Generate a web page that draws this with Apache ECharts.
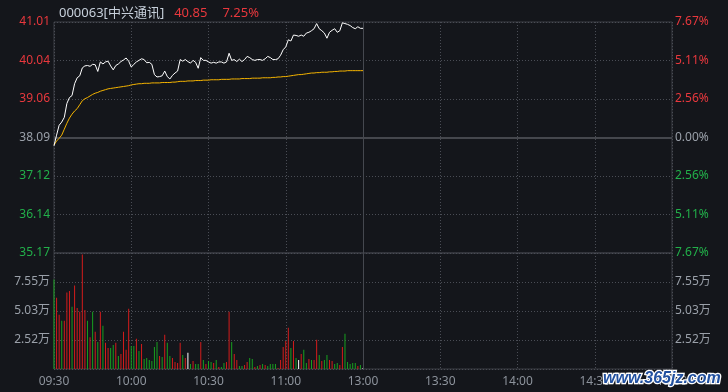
<!DOCTYPE html>
<html><head><meta charset="utf-8">
<script src="https://cdn.jsdelivr.net/npm/echarts@6/dist/echarts.min.js"></script>
<style>html,body{margin:0;padding:0;background:#14161b}#c{width:728px;height:392px}</style>
</head><body><div id="c"></div>
<script>
// ---- data ----
const stockName = '000063[中兴通讯]';
const lastPrice = '40.85';
const lastPct = '7.25%';
const prevClose = 38.09;
const priceTicks = ['35.17','36.14','37.12','38.09','39.06','40.04','41.01'];
const pctTicks = ['7.67%','5.11%','2.56%','0.00%','2.56%','5.11%','7.67%'];
const volTicks = ['','2.52万','5.03万','7.55万',''];
const timeTicks = ['09:30','10:00','10:30','11:00','13:00','13:30','14:00','14:30','15:00'];
const watermark = 'www.365jz.com';

const prices = [37.88,38.15,38.40,38.48,38.60,38.95,39.10,39.15,39.45,39.60,
 39.65,39.85,39.90,39.91,39.89,39.94,39.93,39.76,40.00,39.95,
 40.00,40.02,39.90,39.80,39.91,39.95,40.01,40.05,40.10,40.02,
 39.87,39.94,40.00,40.04,40.08,40.06,39.98,39.99,39.94,39.68,
 39.62,39.63,39.65,39.77,39.63,39.57,39.66,39.72,39.77,40.06,
 40.02,40.06,40.01,39.97,40.04,39.99,39.84,40.11,40.04,40.04,
 40.00,39.97,39.99,39.97,40.00,40.00,39.97,40.00,40.22,40.04,
 40.06,40.01,40.07,40.01,40.06,40.14,40.11,40.06,40.04,40.06,
 40.06,40.04,40.08,40.14,40.11,40.06,40.06,40.08,40.17,40.31,
 40.38,40.56,40.53,40.68,40.67,40.65,40.68,40.65,40.73,40.75,
 40.79,40.84,40.97,40.84,40.79,40.73,40.60,40.75,40.80,40.84,
 40.75,40.79,40.99,40.97,40.95,40.92,40.87,40.84,40.89,40.85,
 40.85];

const avgPrices = [37.90,38.00,38.07,38.15,38.30,38.45,38.58,38.68,38.76,38.82,
 38.92,39.02,39.07,39.10,39.14,39.18,39.21,39.23,39.26,39.28,
 39.30,39.32,39.33,39.34,39.35,39.36,39.37,39.38,39.39,39.40,
 39.42,39.43,39.44,39.45,39.45,39.46,39.46,39.46,39.47,39.47,
 39.47,39.47,39.48,39.48,39.48,39.48,39.49,39.49,39.50,39.51,
 39.51,39.51,39.52,39.52,39.52,39.53,39.53,39.53,39.54,39.54,
 39.54,39.55,39.55,39.55,39.55,39.56,39.56,39.56,39.56,39.57,
 39.57,39.57,39.57,39.58,39.58,39.58,39.58,39.59,39.59,39.59,
 39.59,39.60,39.60,39.60,39.60,39.61,39.61,39.62,39.62,39.63,
 39.63,39.64,39.65,39.66,39.67,39.68,39.68,39.69,39.70,39.71,
 39.72,39.72,39.73,39.73,39.74,39.74,39.74,39.75,39.75,39.76,
 39.76,39.77,39.77,39.77,39.78,39.78,39.78,39.78,39.78,39.78,
 39.78];

// volume in 万
const volumes = [7.76,6.19,4.71,4.19,4.19,6.63,6.77,5.41,7.24,5.29,
 4.97,9.94,5.12,4.19,2.76,4.97,3.23,2.35,4.97,3.75,
 2.27,1.83,1.83,2.09,2.27,1.13,1.31,3.23,1.66,5.23,
 2.00,2.00,2.62,1.57,2.18,0.87,0.96,0.78,0.70,1.92,
 2.35,1.13,1.05,2.97,2.27,1.13,0.96,0.61,0.52,2.27,
 1.22,0.96,1.40,0.44,0.70,0.44,0.44,2.35,0.78,0.44,
 0.70,0.61,0.52,0.78,0.17,0.17,0.52,0.61,4.97,2.35,
 1.31,0.78,0.26,0.26,0.35,0.61,0.96,0.87,0.17,0.26,
 0.35,0.44,0.35,0.26,0.44,0.44,0.44,0.09,0.78,1.92,
 2.44,3.58,1.83,2.44,0.96,0.78,1.31,1.66,0.52,0.87,
 0.78,0.78,2.53,1.22,0.70,0.78,1.22,0.78,0.70,0.44,
 0.52,0.35,1.92,3.05,0.61,0.44,0.52,0.52,0.26,0.35,
 0.09];
// 1 = up (red), -1 = down (green), 0 = flat (white)
const directions = [-1,1,1,-1,1,1,1,-1,1,1,
 1,1,1,-1,1,-1,1,-1,1,-1,
 1,1,-1,-1,1,-1,1,1,1,1,
 -1,-1,1,-1,1,-1,-1,-1,-1,-1,
 -1,1,-1,1,-1,-1,1,1,1,1,
 -1,1,0,-1,1,-1,-1,1,-1,1,
 -1,-1,1,-1,1,-1,-1,1,1,-1,
 1,1,-1,-1,1,1,-1,-1,1,-1,
 1,-1,1,-1,-1,-1,-1,1,1,1,
 1,1,-1,1,-1,0,1,-1,-1,1,
 -1,1,1,-1,1,-1,-1,1,1,-1,
 -1,1,1,-1,-1,-1,-1,-1,1,-1,
 0];

// ---- chart ----
const RED = '#e8383d', GREEN = '#22b04a', GRAY = '#9aa0a9';
const BAR_RED = '#d41c1c', BAR_GREEN = '#17a01f';
const GRID_LINE = '#3c3f46';
const DOT_LINE = '#4a4d55';
const priceStep = (parseFloat(priceTicks[6]) - prevClose) / 3;
const volStep = parseFloat(volTicks[3]) / 3;
const toStep = p => (p - prevClose) / priceStep;
const font = '"Noto Sans","Noto Sans CJK SC",sans-serif';

const dotted = {show: true, lineStyle: {color: DOT_LINE, type: [1, 2], width: 1}};
const signColor = v => v > 0.001 ? RED : (v < -0.001 ? GREEN : GRAY);

const chart = echarts.init(document.getElementById('c'), null, {renderer: 'canvas'});
chart.setOption({
  backgroundColor: '#14161b',
  animation: false,
  title: {
    left: 54, top: 2,
    text: '{a|' + stockName + '}{b|' + lastPrice + '}{c|' + lastPct + '}',
    textStyle: {
      fontWeight: 'normal',
      rich: {
        a: {color: '#c7d0db', fontSize: 13, fontWeight: 'normal', fontFamily: font},
        b: {color: RED, fontSize: 13, fontWeight: 'normal', fontFamily: font, padding: [0, 0, 0, 10]},
        c: {color: RED, fontSize: 13, fontWeight: 'normal', fontFamily: font, padding: [0, 0, 0, 15]}
      }
    }
  },
  graphic: [{
    type: 'text', right: 6, bottom: 4, z: 100,
    style: {text: watermark, fill: '#21509f', stroke: '#ffffff', lineWidth: 2.5,
      font: 'italic bold 16px "Liberation Sans", Arial, sans-serif'}
  }],
  grid: [
    {left: 54, right: 56, top: 22, height: 231, show: true, borderColor: GRID_LINE, borderWidth: 1, backgroundColor: 'transparent'},
    {left: 54, right: 56, top: 253, height: 116, show: true, borderColor: GRID_LINE, borderWidth: 1, backgroundColor: 'transparent'}
  ],
  xAxis: [
    {type: 'value', gridIndex: 0, min: 0, max: 240, interval: 30,
      axisLine: {show: false}, axisTick: {show: false}, axisLabel: {show: false}, splitLine: dotted},
    {type: 'value', gridIndex: 1, min: 0, max: 240, interval: 30,
      axisLine: {show: false}, axisTick: {show: false}, splitLine: dotted,
      axisLabel: {color: '#8d939c', fontSize: 12, fontFamily: font, margin: 7,
        formatter: v => timeTicks[Math.round(v / 30)]}}
  ],
  yAxis: [
    {type: 'value', gridIndex: 0, min: -3, max: 3, interval: 1, position: 'left',
      axisLine: {show: false}, axisTick: {show: false}, splitLine: dotted,
      axisLabel: {fontSize: 12, fontFamily: font, margin: 4,
        formatter: v => priceTicks[Math.round(v) + 3], color: v => signColor(v)}},
    {type: 'value', gridIndex: 0, min: -3, max: 3, interval: 1, position: 'right',
      axisLine: {show: false}, axisTick: {show: false}, splitLine: {show: false},
      axisLabel: {fontSize: 12, fontFamily: font, margin: 3,
        formatter: v => pctTicks[Math.round(v) + 3], color: v => signColor(v)}},
    {type: 'value', gridIndex: 1, min: 0, max: volStep * 4, interval: volStep, position: 'left',
      axisLine: {show: false}, axisTick: {show: false}, splitLine: dotted,
      axisLabel: {fontSize: 12, fontFamily: font, margin: 4, color: GRAY,
        formatter: v => volTicks[Math.round(v / volStep)] || ''}},
    {type: 'value', gridIndex: 1, min: 0, max: volStep * 4, interval: volStep, position: 'right',
      axisLine: {show: false}, axisTick: {show: false}, splitLine: {show: false},
      axisLabel: {fontSize: 12, fontFamily: font, margin: 3, color: GRAY,
        formatter: v => volTicks[Math.round(v / volStep)] || ''}}
  ],
  series: [
    {type: 'line', xAxisIndex: 0, yAxisIndex: 0, symbol: 'none', z: 5,
      lineStyle: {color: '#f5b400', width: 1},
      data: avgPrices.map((p, i) => [i, toStep(p)]),
      markLine: {silent: true, symbol: 'none', label: {show: false}, z: 1,
        data: [
          {xAxis: 120, lineStyle: {color: '#45484f', type: 'solid', width: 1}},
          {yAxis: 0, lineStyle: {color: '#45474d', type: 'solid', width: 2}}
        ]}},
    {type: 'line', xAxisIndex: 0, yAxisIndex: 0, symbol: 'none', z: 6,
      lineStyle: {color: '#ffffff', width: 1},
      data: prices.map((p, i) => [i, toStep(p)])},
    {type: 'bar', xAxisIndex: 1, yAxisIndex: 2, barWidth: 1,
      data: volumes.map((v, i) => ({value: [i, v], itemStyle: {
        color: directions[i] > 0 ? BAR_RED : (directions[i] < 0 ? BAR_GREEN : '#ffffff')}})),
      markLine: {silent: true, symbol: 'none', label: {show: false},
        data: [{xAxis: 120, lineStyle: {color: '#45484f', type: 'solid', width: 1}}]}}
  ]
});
</script>
</body></html>
